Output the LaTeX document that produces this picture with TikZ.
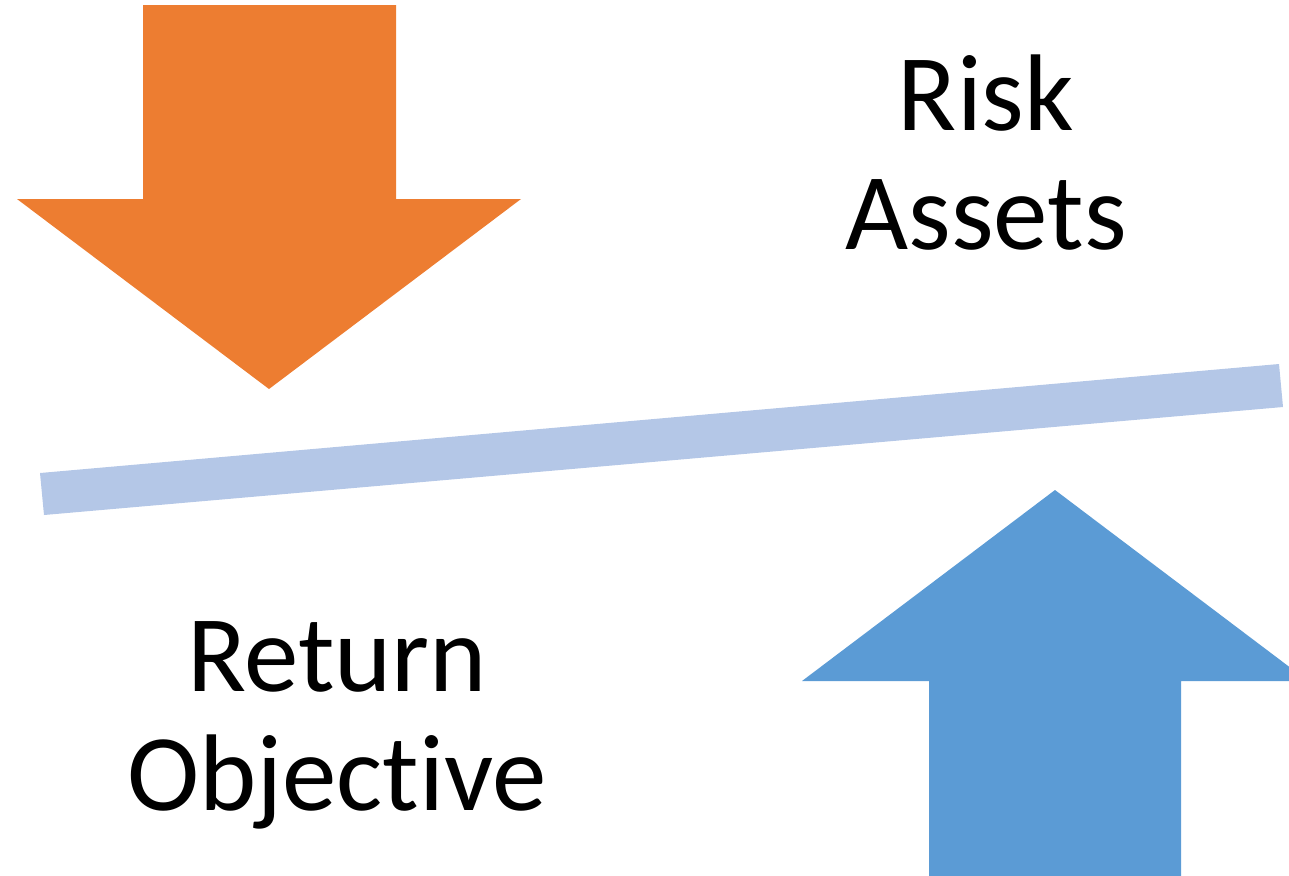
\documentclass[tikz,border=0pt]{standalone}
\usepackage{fontspec}
\setmainfont{Carlito}[Ligatures={NoCommon,NoRare}]
\definecolor{arrorange}{HTML}{ED7D31}
\definecolor{arrblue}{HTML}{5B9BD5}
\definecolor{beamblue}{HTML}{B4C7E7}
\tikzset{
  lbl/.style={font=\fontsize{54.5}{59.5}\selectfont, align=center, anchor=base, inner sep=0pt, text=black}
}
\begin{document}
\begin{tikzpicture}[x=0.5pt,y=-0.5pt]
\useasboundingbox (0,0) rectangle (1289,875);
% orange down arrow
\fill[arrorange] (143,5) -- (396,5) -- (396,199) -- (521,199) -- (269,389) -- (17,199) -- (143,199) -- cycle;
% blue up arrow (clipped at right edge)
\begin{scope}
\clip (0,0) rectangle (1289,875);
\fill[arrblue] (1055,490) -- (1308,681) -- (1181,681) -- (1181,880) -- (929,880) -- (929,681) -- (802,681) -- cycle;
\end{scope}
% beam
\fill[beamblue] (40,473) -- (1279,364) -- (1283,407) -- (44,515) -- cycle;
% labels
\node[lbl] (risk) at (986,249) {Risk\\Assets};
\node[lbl] (ret) at (337,810) {Return\\Objective};
\end{tikzpicture}
\end{document}
